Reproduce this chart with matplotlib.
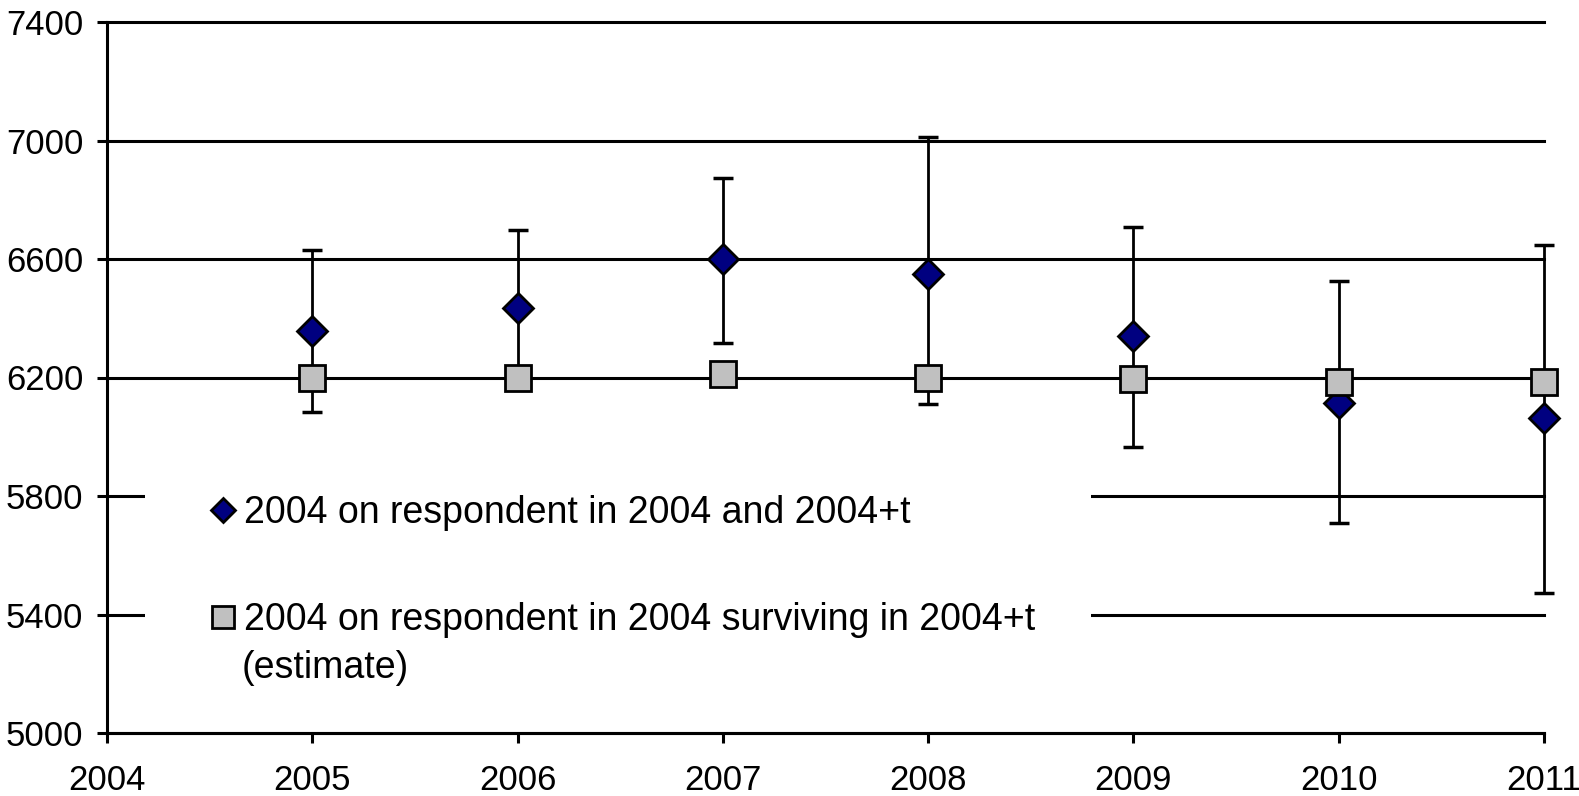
import matplotlib
matplotlib.use('Agg')
import matplotlib.pyplot as plt
from matplotlib.patches import Rectangle

plt.rcParams['font.family'] = ['Liberation Sans', 'DejaVu Sans']

years = [2005, 2006, 2007, 2008, 2009, 2010, 2011]
resp = [6357, 6434, 6600, 6550, 6340, 6113, 6064]   # 2004 on respondent in 2004 and 2004+t
resp_hi = [6630, 6697, 6874, 7011, 6707, 6527, 6648]
resp_lo = [6083, 6171, 6318, 6112, 5965, 5708, 5471]
surv = [6200, 6200, 6211, 6200, 6195, 6184, 6184]   # surviving (estimate)
yticks = [5000, 5400, 5800, 6200, 6600, 7000, 7400]
xticks = [2004, 2005, 2006, 2007, 2008, 2009, 2010, 2011]

err = [[m - l for m, l in zip(resp, resp_lo)], [h - m for m, h in zip(resp, resp_hi)]]

fig = plt.figure(figsize=(15.79, 7.96), dpi=100)
ax = fig.add_axes([107/1579, 1-733/796, 1437/1579, 711/796])

ax.set_xlim(2004, 2011)
ax.set_ylim(5000, 7400)
ax.set_yticks(yticks)
ax.set_xticks(xticks)
ax.yaxis.grid(True, color='black', lw=2.2, zorder=0)
ax.set_axisbelow(True)
for gl in ax.get_ygridlines():
    gl.set_clip_on(False)

for s in ['top', 'right']:
    ax.spines[s].set_visible(False)
for s in ['left', 'bottom']:
    ax.spines[s].set_linewidth(2.2)
ax.tick_params(axis='both', labelsize=25, width=2.2, length=7, direction='out')
ax.tick_params(axis='y', pad=10)
ax.tick_params(axis='x', pad=15)

# white box behind legend hides the gridlines (excel style)
ax.add_patch(Rectangle((38/1437, 0.05), (1091-145)/1437, 0.30, transform=ax.transAxes,
                       facecolor='white', edgecolor='none', zorder=1))

ax.errorbar(years, resp, yerr=err, fmt='none', ecolor='black', elinewidth=2,
            capsize=7, capthick=2.5, zorder=3, clip_on=False)
ax.plot(years, resp, ls='none', marker='D', ms=15, mfc='#000080', mec='black',
        mew=2, zorder=4, clip_on=False, label='2004 on respondent in 2004 and 2004+t')
ax.plot(years, surv, ls='none', marker='s', ms=19, mfc='#C0C0C0', mec='black',
        mew=2, zorder=5, clip_on=False, label='2004 on respondent in 2004 surviving in 2004+t')

leg = ax.legend(loc='upper left', bbox_to_anchor=(0.0724, 0.335), frameon=False,
                fontsize=27, markerscale=0.84, handlelength=0.64, handletextpad=0.24,
                labelspacing=1.9, borderpad=0, borderaxespad=0)
leg.set_zorder(6)
ax.text(0.0939, 0.0914, '(estimate)', transform=ax.transAxes, fontsize=27,
        va='center', ha='left', zorder=6)

fig.savefig('out.png', dpi=100)
